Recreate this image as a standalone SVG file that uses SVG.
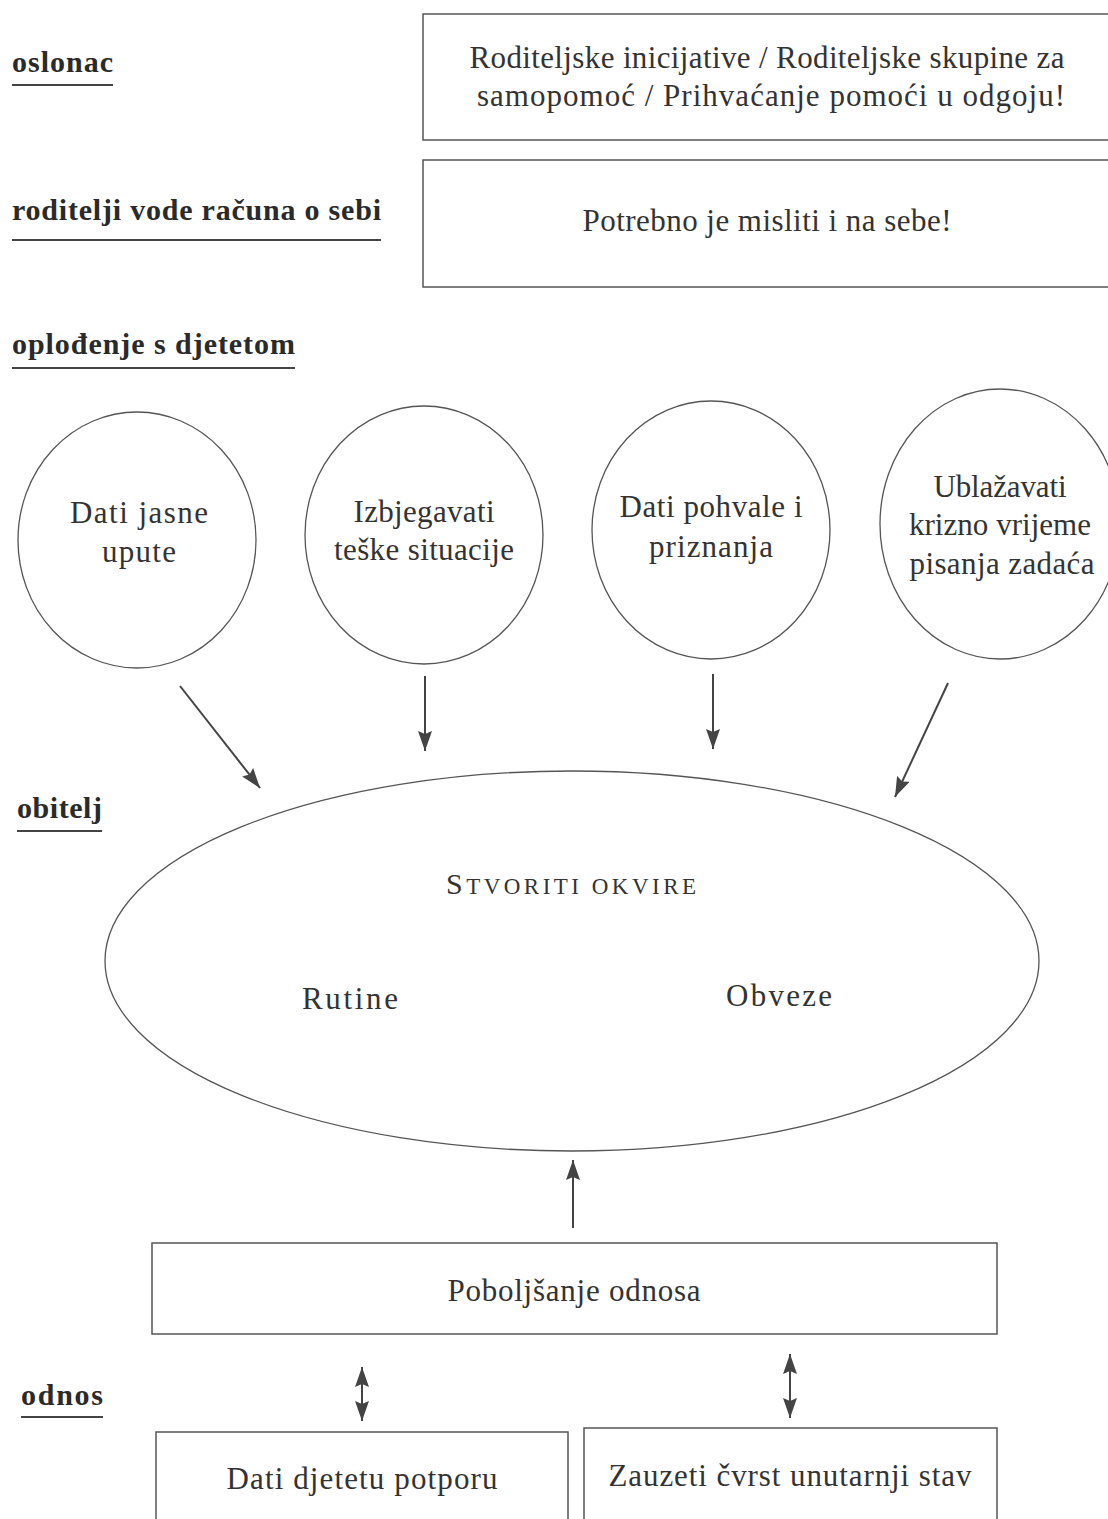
<svg xmlns="http://www.w3.org/2000/svg" width="1108" height="1519" viewBox="0 0 1108 1519">
<style>
.lbl{font-family:"Liberation Serif","DejaVu Serif",serif;font-weight:bold;font-size:30px;fill:#2a2a2a}
.t{font-family:"Liberation Serif","DejaVu Serif",serif;font-size:31px;fill:#333;text-anchor:middle}
.box{fill:none;stroke:#555;stroke-width:1.5}
.ell{fill:none;stroke:#555;stroke-width:1.3}
.ul{stroke:#444;stroke-width:2}
.con{stroke:#444;stroke-width:2;fill:none}
</style>
<defs>
<marker id="ah" viewBox="0 0 20 14" refX="20" refY="7" markerWidth="20" markerHeight="14" markerUnits="userSpaceOnUse" orient="auto-start-reverse">
<path d="M0,0 L20,7 L0,14 L3,7 Z" fill="#444"/>
</marker>
</defs>
<rect width="1108" height="1519" fill="#fff"/>

<g id="label-oslonac"><text class="lbl" x="12" y="72" textLength="101">oslonac</text><line class="ul" x1="12" y1="85" x2="113" y2="85"/></g>
<g id="label-roditelji"><text class="lbl" x="12" y="220" textLength="369">roditelji vode računa o sebi</text><line class="ul" x1="12" y1="240" x2="381" y2="240"/></g>
<g id="label-oplodjenje"><text class="lbl" x="12" y="354" textLength="283">oplođenje s djetetom</text><line class="ul" x1="12" y1="368" x2="295" y2="368"/></g>
<g id="label-obitelj"><text class="lbl" x="17" y="818" textLength="85">obitelj</text><line class="ul" x1="17" y1="831" x2="102" y2="831"/></g>
<g id="label-odnos"><text class="lbl" x="21" y="1405" textLength="82">odnos</text><line class="ul" x1="21" y1="1417" x2="103" y2="1417"/></g>

<g id="box-oslonac"><rect class="box" x="423" y="14" width="700" height="126"/>
<text class="t" x="767" y="68" textLength="595">Roditeljske inicijative / Roditeljske skupine za</text>
<text class="t" x="771" y="106" textLength="588">samopomoć / Prihvaćanje pomoći u odgoju!</text></g>

<g id="box-sebe"><rect class="box" x="423" y="160" width="700" height="127"/>
<text class="t" x="767" y="231" textLength="369">Potrebno je misliti i na sebe!</text></g>

<g id="e1"><ellipse class="ell" cx="137" cy="540" rx="119" ry="128"/>
<text class="t" x="139" y="523" textLength="138">Dati  jasne</text><text class="t" x="139" y="562" textLength="74">upute</text></g>
<g id="e2"><ellipse class="ell" cx="424" cy="535" rx="119" ry="129"/>
<text class="t" x="424" y="522" textLength="141">Izbjegavati</text><text class="t" x="424" y="560" textLength="180">teške situacije</text></g>
<g id="e3"><ellipse class="ell" cx="711" cy="530" rx="119" ry="129"/>
<text class="t" x="711" y="517" textLength="183">Dati pohvale i</text><text class="t" x="711" y="557" textLength="124">priznanja</text></g>
<g id="e4"><ellipse class="ell" cx="1000" cy="524" rx="120" ry="135"/>
<text class="t" x="1000" y="497" textLength="133">Ublažavati</text><text class="t" x="1000" y="535" textLength="182">krizno vrijeme</text><text class="t" x="1002" y="574" textLength="185">pisanja zadaća</text></g>

<g id="e-main"><ellipse class="ell" cx="572" cy="961" rx="467" ry="190"/>
<text class="t" x="571" y="894" textLength="250"><tspan font-size="30">S</tspan><tspan font-size="23">TVORITI OKVIRE</tspan></text>
<text class="t" x="350" y="1009" textLength="96">Rutine</text>
<text class="t" x="779" y="1006" textLength="106">Obveze</text></g>

<g id="box-poboljsanje"><rect class="box" x="152" y="1243" width="845" height="91"/>
<text class="t" x="574" y="1301" textLength="253">Poboljšanje odnosa</text></g>

<g id="box-potpora"><rect class="box" x="156" y="1432" width="412" height="100"/>
<text class="t" x="362" y="1489" textLength="271">Dati djetetu potporu</text></g>
<g id="box-stav"><rect class="box" x="584" y="1428" width="413" height="104"/>
<text class="t" x="790" y="1486" textLength="363">Zauzeti čvrst unutarnji stav</text></g>

<g id="connectors">
<line class="con" x1="180" y1="686" x2="260" y2="788" marker-end="url(#ah)"/>
<line class="con" x1="425" y1="676" x2="425" y2="751" marker-end="url(#ah)"/>
<line class="con" x1="713" y1="674" x2="713" y2="749" marker-end="url(#ah)"/>
<line class="con" x1="948" y1="683" x2="895" y2="797" marker-end="url(#ah)"/>
<line class="con" x1="573" y1="1228" x2="573" y2="1160" marker-end="url(#ah)"/>
<line class="con" x1="362" y1="1367" x2="362" y2="1421" marker-start="url(#ah)" marker-end="url(#ah)"/>
<line class="con" x1="790" y1="1354" x2="790" y2="1418" marker-start="url(#ah)" marker-end="url(#ah)"/>
</g>
</svg>
